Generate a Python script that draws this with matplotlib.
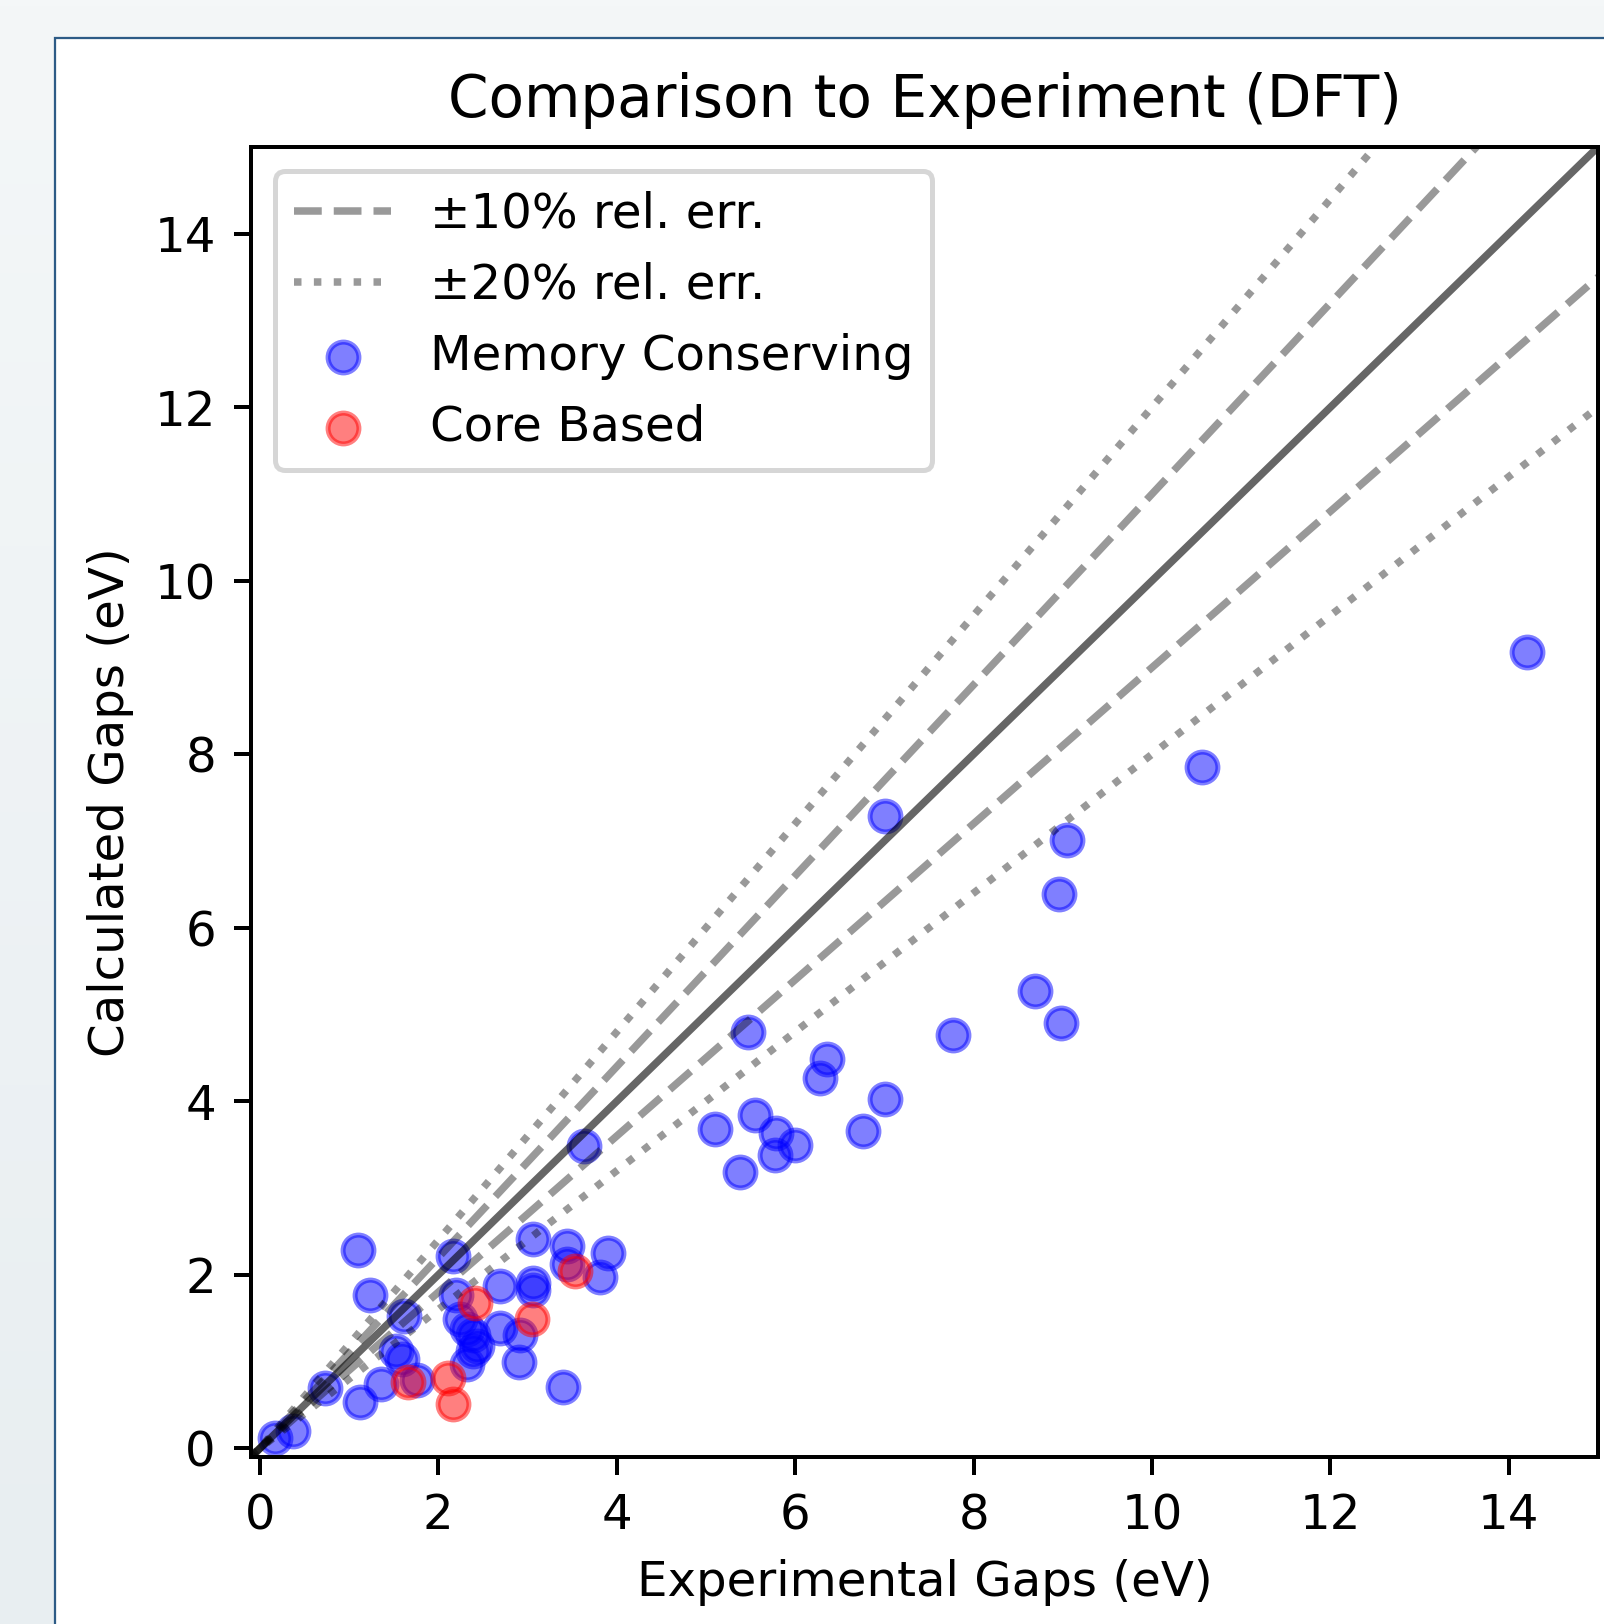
import numpy as np
import matplotlib
matplotlib.use("Agg")
import matplotlib.pyplot as plt
from matplotlib.patches import Rectangle
from matplotlib.colors import LinearSegmentedColormap

# ---- data ----
mem_exp = [14.20, 10.56, 9.05, 8.96, 7.01, 8.69, 8.98, 7.77, 5.47, 6.36, 6.28, 7.01,
           6.76, 5.55, 5.79, 5.10, 6.00, 5.77, 5.38, 3.63,
           1.10, 1.23, 2.17, 3.06, 3.44, 3.44, 3.90, 3.81, 2.69, 3.06, 3.06, 2.20,
           1.61, 2.24, 2.32, 2.39, 2.43, 2.39, 2.69, 2.91, 2.90, 2.32, 1.53, 1.59,
           1.76, 1.36, 1.12, 3.40, 0.73, 0.37, 0.17]
mem_calc = [9.18, 7.85, 7.01, 6.39, 7.29, 5.27, 4.90, 4.77, 4.80, 4.49, 4.27, 4.03,
            3.66, 3.84, 3.64, 3.68, 3.50, 3.38, 3.18, 3.48,
            2.29, 1.77, 2.22, 2.41, 2.33, 2.12, 2.25, 1.97, 1.87, 1.91, 1.83, 1.77,
            1.52, 1.49, 1.37, 1.31, 1.18, 1.12, 1.39, 1.31, 0.99, 0.97, 1.12, 1.03,
            0.79, 0.74, 0.53, 0.71, 0.69, 0.20, 0.12]
core_exp = [3.53, 2.41, 3.05, 1.66, 2.11, 2.17]
core_calc = [2.04, 1.67, 1.49, 0.76, 0.81, 0.51]

rel_err_small = 0.10
rel_err_large = 0.20
lims = (-0.1, 15)

title = "Comparison to Experiment (DFT)"
xlabel = "Experimental Gaps (eV)"
ylabel = "Calculated Gaps (eV)"

plt.rcParams["font.size"] = 9.65

# ---- figure ----
W, H, DPI = 1604, 1624, 360
fig = plt.figure(figsize=(W / DPI, H / DPI), dpi=DPI)

# page background + panel
bg = fig.add_axes([0, 0, 1, 1], zorder=-10)
cmap = LinearSegmentedColormap.from_list("bg", ["#f4f7f8", "#e8eef1"])
bg.imshow(np.linspace(0, 1, 256).reshape(-1, 1), aspect="auto", cmap=cmap,
          extent=[0, 1, 0, 1])
bg.add_patch(Rectangle((55 / W, -0.1), 1.2, 1 - 38 / H + 0.1, transform=bg.transAxes,
                       facecolor="white", edgecolor="#2d5b86", lw=0.45))
bg.set_xlim(0, 1)
bg.set_ylim(0, 1)
bg.axis("off")

ax = fig.add_axes([251 / W, 1 - 1457 / H, (1598 - 251) / W, (1457 - 147) / H])

xs = np.array(lims)
ax.plot(xs, xs, color="k", alpha=0.6, lw=1.5)
ax.plot(xs, xs * (1 + rel_err_small), "--", color="k", alpha=0.4, lw=1.5,
        label="±10% rel. err.")
ax.plot(xs, xs * (1 - rel_err_small), "--", color="k", alpha=0.4, lw=1.5)
ax.plot(xs, xs * (1 + rel_err_large), ":", color="k", alpha=0.4, lw=1.5,
        label="±20% rel. err.")
ax.plot(xs, xs * (1 - rel_err_large), ":", color="k", alpha=0.4, lw=1.5)

ax.scatter(mem_exp, mem_calc, s=38, color="blue", alpha=0.5, linewidths=1.0,
           label="Memory Conserving")
ax.scatter(core_exp, core_calc, s=38, color="red", alpha=0.5, linewidths=1.0,
           label="Core Based")

ax.set_xlim(*lims)
ax.set_ylim(*lims)
ax.set_xticks(np.arange(0, 15, 2))
ax.set_yticks(np.arange(0, 15, 2))
ax.set_title(title, fontsize=11.6)
ax.set_xlabel(xlabel)
ax.set_ylabel(ylabel)
ax.legend(loc="upper left")

fig.savefig("out.png", dpi=DPI)
